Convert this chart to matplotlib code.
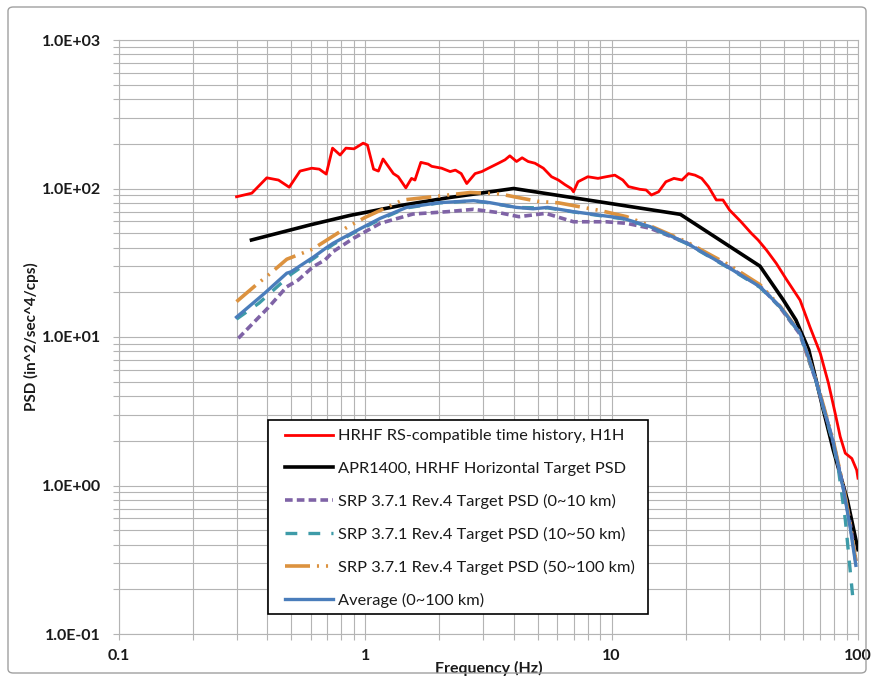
import matplotlib
matplotlib.use("Agg")
import matplotlib.pyplot as plt
from matplotlib.ticker import FixedLocator, FuncFormatter, NullFormatter
from matplotlib.patches import FancyBboxPatch, Rectangle

plt.rcParams['font.family'] = ['Lato', 'DejaVu Sans']
plt.rcParams['lines.scale_dashes'] = False

# HRHF RS-compatible time history, H1H
freq_h1h = [0.30, 0.346, 0.398, 0.444, 0.491, 0.543, 0.606, 0.65, 0.694, 0.736,
            0.79, 0.834, 0.899, 0.98, 1.02, 1.08, 1.13, 1.18, 1.30, 1.36,
            1.46, 1.54, 1.59, 1.68, 1.80, 1.86, 2.04, 2.21, 2.32, 2.45,
            2.58, 2.79, 2.97, 3.16, 3.47, 3.69, 3.86, 4.11, 4.33, 4.58,
            4.88, 5.28, 5.7, 6.08, 6.47, 6.85, 7.0, 7.3, 8.0, 8.8,
            9.5, 10.3, 11.1, 11.7, 13.0, 13.8, 14.5, 15.5, 16.6, 17.9,
            19.3, 20.5, 21.8, 23.2, 24.7, 26.6, 28.3, 30.1, 31.5, 33.5,
            36.9, 39.3, 42.5, 46.6, 51.4, 58.2, 63.8, 70.3, 75.9, 80.8,
            84.7, 88.8, 94.4, 98.8, 100.0]
psd_h1h = [88, 93, 118, 114, 102, 131, 137, 135, 125, 187,
           168, 187, 185, 202, 196, 135, 131, 158, 126, 120,
           101, 117, 114, 150, 146, 141, 137, 130, 133, 126,
           108, 126, 130, 137, 148, 156, 166, 152, 161, 152,
           148, 137, 120, 114, 106, 100, 95, 111, 120, 117,
           120, 123, 114, 103, 98.8, 97.7, 90.4, 95, 111, 117,
           114, 126, 123, 117, 103, 83.7, 83.7, 71.6, 66.3, 59.7,
           49.9, 45, 38.5, 31.3, 24.2, 17.7, 11.7, 7.76, 4.87, 3.06,
           2.13, 1.65, 1.52, 1.27, 1.12]

# APR1400 HRHF horizontal target PSD
freq_apr = [0.345, 0.6, 0.87, 1.0, 1.4, 2.2, 4.0, 19.0, 40.0, 49.8, 56.0, 63.1, 72.4, 79.4, 90.5, 100.0]
psd_apr = [45, 57, 66, 69, 77, 87, 100, 67, 30, 17.7, 13.0, 8.2, 3.2, 1.73, 0.8, 0.37]

# SRP 3.7.1 Rev.4 target PSD, 0~10 km
freq_srp10 = [0.305, 0.404, 0.48, 0.534, 0.615, 0.686, 0.74, 0.895, 1.15, 1.56,
              2.15, 2.75, 3.5, 4.2, 5.4, 7.0, 9.5, 11.5, 14.3, 20.2,
              29.4, 40, 48, 58, 68, 79.4, 87.4, 93, 98]
psd_srp10 = [9.8, 15.8, 21.8, 24.2, 29.8, 33, 37.6, 46.2, 58.3, 67.3,
             69.8, 72.4, 68.7, 64.6, 68, 59.7, 59.7, 58.3, 54, 43,
             30, 22, 16, 10.5, 4.9, 1.95, 0.95, 0.55, 0.31]

# SRP 3.7.1 Rev.4 target PSD, 10~50 km
freq_srp50 = [0.30, 0.37, 0.5, 0.62, 0.74, 0.9, 1.15, 1.47, 2.0, 2.75,
              3.2, 4.1, 5.5, 7.0, 11.1, 14.3, 20.2, 29.4, 40, 48.3,
              58.2, 68, 74, 79.4, 83.2, 88.8, 92.9, 95.8]
psd_srp50 = [13.2, 16.9, 26.5, 34, 42, 50.5, 62, 74, 80, 82.5,
             80, 74.5, 74, 69.5, 62.5, 55, 42.5, 29.6, 21.6, 15.9,
             10.5, 4.85, 2.9, 1.9, 1.3, 0.59, 0.27, 0.16]

# SRP 3.7.1 Rev.4 target PSD, 50~100 km
freq_srp100 = [0.30, 0.36, 0.40, 0.44, 0.48, 0.61, 0.83, 1.0, 1.42, 2.0,
               2.67, 3.5, 5.0, 6.1, 9.0, 11.5, 14.0, 20.0, 30.0, 40.0,
               48.0, 58.0, 68.0, 79.4, 87.4, 93.0, 98.0]
psd_srp100 = [17.3, 22.4, 25.8, 29.5, 33.4, 39, 54, 64, 83.7, 89,
              94, 92, 82, 80, 71, 64.6, 57, 44, 30.5, 22.5,
              16.3, 10.8, 5.0, 2.0, 0.97, 0.55, 0.31]

# Average of the three SRP spectra, 0~100 km
freq_avg = [0.30, 0.39, 0.48, 0.50, 0.62, 0.69, 0.74, 0.90, 1.15, 1.47,
            2.0, 2.75, 3.2, 4.1, 4.8, 5.5, 7.0, 11.1, 14.3, 20.2,
            29.4, 40, 48.3, 58.2, 63, 68, 74, 79.4, 87.4, 93, 98]
psd_avg = [13.6, 19.7, 26.9, 27.5, 34.8, 39.6, 42.8, 51, 63, 74.6,
           80.3, 82.8, 80.3, 74.6, 73, 74.6, 69.8, 63, 55.4, 42.8,
           29.8, 21.8, 16, 10.6, 7.3, 4.9, 2.95, 1.95, 0.93, 0.52, 0.29]

labels = [
    "HRHF RS-compatible time history, H1H",
    "APR1400, HRHF Horizontal Target PSD",
    "SRP 3.7.1 Rev.4 Target PSD (0~10 km)",
    "SRP 3.7.1 Rev.4 Target PSD (10~50 km)",
    "SRP 3.7.1 Rev.4 Target PSD (50~100 km)",
    "Average (0~100 km)",
]

fig = plt.figure(figsize=(8.72, 6.79), dpi=100)
ax = fig.add_axes([119 / 872, 45 / 679, 739 / 872, 594 / 679])

grid_c = '#b4b4b4'
text_c = '#1a1a1a'

ax.plot(freq_h1h, psd_h1h, color='#ff0000', lw=2.0, label=labels[0], zorder=3)
ax.plot(freq_apr, psd_apr, color='#000000', lw=2.6, label=labels[1], zorder=3)
l_p, = ax.plot(freq_srp10, psd_srp10, color='#7f63a6', lw=2.6, label=labels[2], zorder=3)
l_p.set_dashes((5.5, 3.0))
l_t, = ax.plot(freq_srp50, psd_srp50, color='#3e9ba8', lw=2.4, label=labels[3], zorder=3)
l_t.set_dashes((8.5, 8.0))
l_o, = ax.plot(freq_srp100, psd_srp100, color='#dc923f', lw=2.6, label=labels[4], zorder=3)
l_o.set_dashes((18, 5, 1.5, 5, 1.5, 5))
ax.plot(freq_avg, psd_avg, color='#4a7dbb', lw=2.4, label=labels[5], zorder=4)

ax.set_xscale('log')
ax.set_yscale('log')
ax.set_xlim(0.1, 100)
ax.set_ylim(0.1, 1000)

ax.xaxis.set_major_locator(FixedLocator([0.1, 1, 10, 100]))
ax.yaxis.set_major_locator(FixedLocator([0.1, 1, 10, 100, 1000]))
xminor = [m * 10.0 ** k for k in range(-1, 2) for m in range(2, 10)]
yminor = [m * 10.0 ** k for k in range(-1, 3) for m in range(2, 10)]
ax.xaxis.set_minor_locator(FixedLocator(xminor))
ax.yaxis.set_minor_locator(FixedLocator(yminor))
ax.xaxis.set_minor_formatter(NullFormatter())
ax.yaxis.set_minor_formatter(NullFormatter())
ax.xaxis.set_major_formatter(FuncFormatter(lambda v, p: f"{v:g}"))
ax.yaxis.set_major_formatter(FuncFormatter(lambda v, p: f"{v:.1E}"))

ax.grid(True, which='both', color=grid_c, lw=0.8)
ax.set_axisbelow(True)
for side in ['left', 'bottom', 'top', 'right']:
    ax.spines[side].set_color(grid_c)
    ax.spines[side].set_linewidth(0.8)

ax.tick_params(which='both', direction='out', length=4, width=0.8, color=grid_c)
ax.tick_params(axis='y', which='major', pad=9)
ax.tick_params(axis='x', which='major', pad=7)
for t in ax.get_xticklabels() + ax.get_yticklabels():
    t.set_fontweight('bold')
    t.set_fontsize(11.5)
    t.set_color(text_c)

ax.set_xlabel("Frequency (Hz)", fontsize=11.5, fontweight='bold', color=text_c)
ax.set_ylabel("PSD (in^2/sec^4/cps)", fontsize=11, fontweight='bold', color=text_c)
ax.xaxis.set_label_coords(0.5, -0.046)
ax.yaxis.set_label_coords(-0.108, 0.5)

# legend box drawn separately so its padding can differ per side
ax.add_patch(Rectangle(((268 - 119) / 739, (634 - 614) / 594), 380 / 739, 194 / 594,
                       transform=ax.transAxes, facecolor='white', edgecolor='#000000',
                       lw=1.2, zorder=5))
leg = ax.legend(loc='upper left', bbox_to_anchor=((285 - 119) / 739, (634 - 429) / 594),
                frameon=False, fontsize=11.8, handlelength=2.95, handletextpad=0.28,
                labelspacing=1.09, borderpad=0.0, borderaxespad=0.0)
leg.set_zorder(6)
for t in leg.get_texts():
    t.set_color(text_c)

# thin rounded border around the whole chart
border = FancyBboxPatch((8 / 872, 6 / 679), 858 / 872, 666 / 679,
                        boxstyle="round,pad=0,rounding_size=0.006",
                        transform=fig.transFigure, fill=False,
                        edgecolor='#a0a0a0', lw=1.0)
fig.patches.append(border)

fig.savefig("out.png", dpi=100)
